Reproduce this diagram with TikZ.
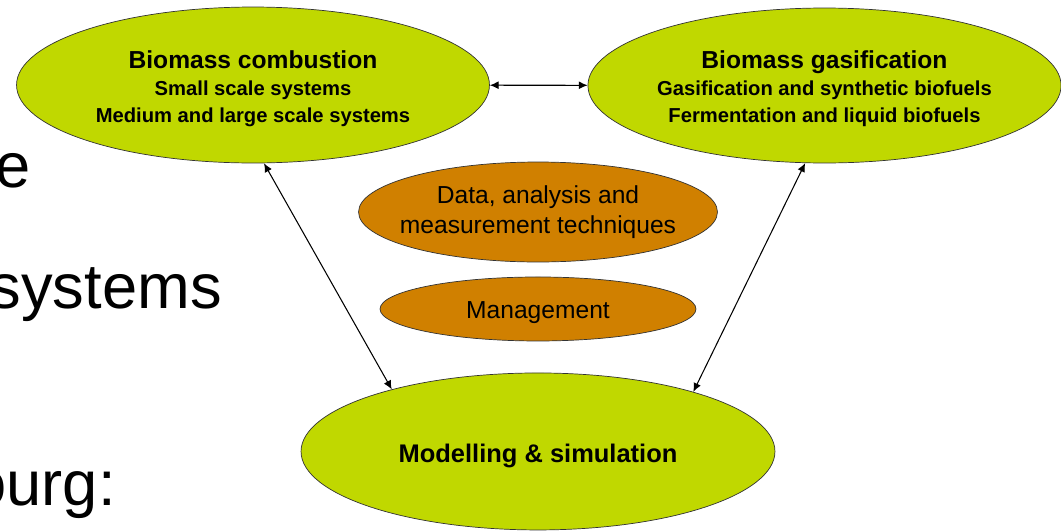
\documentclass[tikz,border=0pt]{standalone}
\usepackage{fontspec}
\setmainfont{Liberation Sans}
\usetikzlibrary{positioning,shapes.geometric,arrows.meta}
\definecolor{leafgreen}{RGB}{192,216,0}
\definecolor{rustorange}{RGB}{208,128,0}

\begin{document}
\begin{tikzpicture}[
    x=0.02cm,y=-0.02cm,on grid,>={Latex[length=5pt,width=4.5pt]},
    slidetext/.style={inner sep=0pt,anchor=base east,font=\fontsize{36}{40}\selectfont},
    greenblob/.style={ellipse,draw=black!80,fill=leafgreen,inner sep=0pt,align=center,font=\fontsize{11.5}{15.4}\selectfont\bfseries},
    orangeblob/.style={ellipse,draw=black!80,fill=rustorange,inner sep=0pt,align=center,font=\fontsize{14}{17}\selectfont},
    twoway/.style={<->,line width=0.6pt}
]
    \useasboundingbox (0,0) rectangle (1061,531);
    %Slide text behind
    \node[slidetext] (s1) at (31,187) {e};
    \node[slidetext] (s2) at (222,308) {systems};
    \node[slidetext] (s3) at (116,505) {ourg:};
    %Top row
    \node[greenblob,minimum width=9.46cm,minimum height=3.12cm,text height=45pt] (comb) at (253,85)
        {{\fontsize{14}{15.4}\selectfont Biomass combustion}\\Small scale systems\\Medium and large scale systems};
    \node[greenblob,minimum width=9.1cm,minimum height=3.1cm,text height=45pt] (gas) at (824.5,85.5)
        {{\fontsize{14}{15.4}\selectfont Biomass gasification}\\Gasification and synthetic biofuels\\Fermentation and liquid biofuels};
    %Middle
    \node[orangeblob,minimum width=7.18cm,minimum height=2cm,inner xsep=-8pt] (data) at (538,212)
        {Data, analysis and\\measurement techniques};
    \node[orangeblob,below=1.94cm of data,minimum width=6.32cm,minimum height=1.28cm,text height=13.5pt] (mgmt) {Management};
    %Bottom
    \node[greenblob,below=2.85cm of mgmt,minimum width=9.48cm,minimum height=3.14cm,text height=16pt,
        font=\fontsize{14.5}{17}\selectfont\bfseries] (model) {Modelling \& simulation};
    \draw[twoway] (comb) -- (gas);
    \draw[twoway] (comb.278) -- (model.157);
    \draw[twoway] (gas.256) -- (model.21);
\end{tikzpicture}
\end{document}
